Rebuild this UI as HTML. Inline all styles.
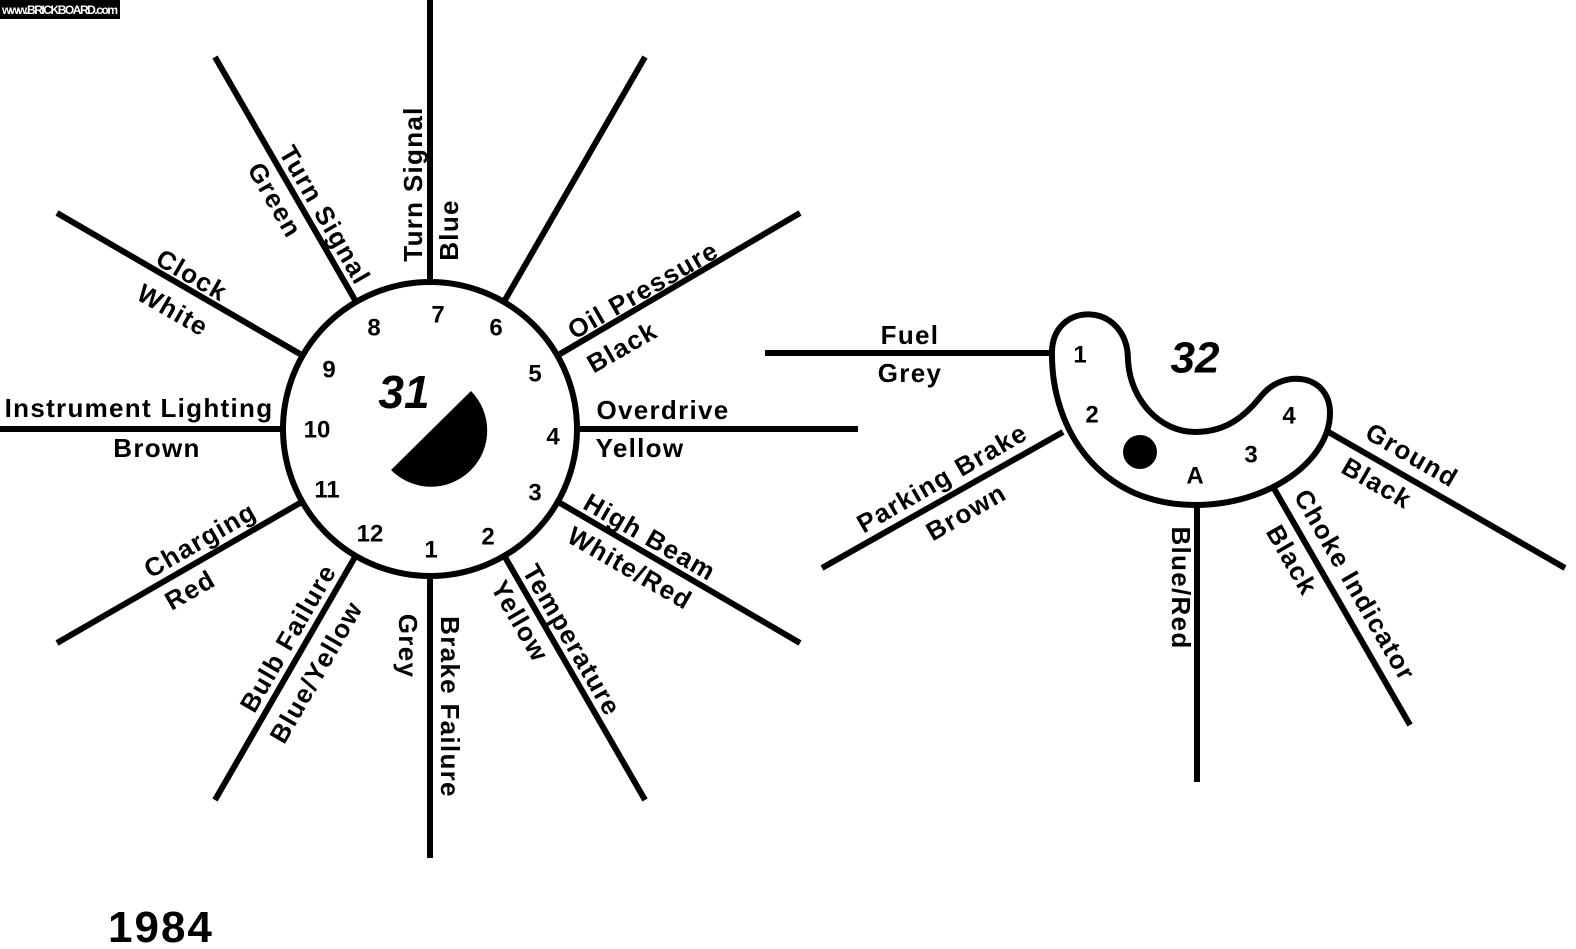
<!DOCTYPE html>
<html><head><meta charset="utf-8"><style>
html,body{margin:0;padding:0;background:#fff;}
svg{display:block;}
text{font-family:"Liberation Sans",Arial,sans-serif;font-weight:bold;fill:#000;}
</style></head><body>
<svg width="1576" height="949" viewBox="0 0 1576 949" xmlns="http://www.w3.org/2000/svg">
<rect x="0" y="0" width="120" height="19" fill="#000"/>
<text x="60" y="14" font-size="12" font-weight="normal" style="fill:#fff" text-anchor="middle" textLength="116">www.BRICKBOARD.com</text>
<g stroke="#000" stroke-width="6" fill="none">
<line x1="430" y1="0" x2="430" y2="282"/>
<line x1="430" y1="576" x2="430" y2="858"/>
<line x1="0" y1="429" x2="284" y2="429"/>
<line x1="576" y1="429" x2="858" y2="429"/>
<line x1="505" y1="300" x2="645" y2="57"/>
<line x1="355" y1="300" x2="215" y2="57"/>
<line x1="300" y1="354" x2="57" y2="213"/>
<line x1="560" y1="354" x2="800" y2="213"/>
<line x1="560" y1="503" x2="800" y2="643"/>
<line x1="300" y1="503" x2="57" y2="643"/>
<line x1="355" y1="557" x2="215" y2="800"/>
<line x1="505" y1="557" x2="645" y2="800"/>
<circle cx="430" cy="429" r="147" fill="#fff"/>
<line x1="765" y1="353" x2="1052" y2="353"/>
<line x1="1063" y1="432" x2="822" y2="568"/>
<line x1="1197" y1="505" x2="1197" y2="782"/>
<line x1="1272" y1="485" x2="1410" y2="725"/>
<line x1="1325" y1="430" x2="1565" y2="568"/>
<path d="M1052,355 C1050,300 1128,300 1128,360 C1130,400 1160,432 1195,432 C1230,432 1248,412 1262,395 C1285,368 1330,375 1330,413 C1330,460 1270,505 1195,505 C1100,505 1052,430 1052,355 Z" fill="#fff"/>
</g>
<path d="M391,470 L471,391 A56,56 0 0 1 391,470 Z" fill="#000"/>
<circle cx="1140" cy="452" r="17" fill="#000"/>
<g font-size="24" text-anchor="middle" dominant-baseline="central">
<text x="438" y="315">7</text><text x="374" y="328">8</text><text x="496" y="328">6</text>
<text x="329" y="370">9</text><text x="535" y="374">5</text><text x="317" y="430">10</text>
<text x="553" y="437">4</text><text x="327" y="490">11</text><text x="535" y="493">3</text>
<text x="370" y="534">12</text><text x="488" y="537">2</text><text x="431" y="550">1</text>
<text x="1080" y="355">1</text><text x="1092" y="415">2</text><text x="1289" y="416">4</text>
<text x="1251" y="455">3</text><text x="1195" y="476">A</text>
</g>
<text x="404" y="392" font-size="46" font-style="italic" text-anchor="middle" dominant-baseline="central">31</text>
<text x="1195" y="358" font-size="44" font-style="italic" text-anchor="middle" dominant-baseline="central">32</text>
<text x="108" y="942" font-size="44" letter-spacing="2">1984</text>
<g font-size="26" letter-spacing="1.3" text-anchor="middle" dominant-baseline="central">
<text transform="translate(413,184) rotate(-90)">Turn Signal</text>
<text transform="translate(449,230) rotate(-90)">Blue</text>
<text transform="translate(450,707) rotate(90)">Brake Failure</text>
<text transform="translate(408,646) rotate(90)">Grey</text>
<text x="139" y="408">Instrument Lighting</text>
<text x="157" y="448">Brown</text>
<text x="663" y="410">Overdrive</text>
<text x="640" y="448">Yellow</text>
<text transform="translate(192,275) rotate(30)">Clock</text>
<text transform="translate(173,310) rotate(30)">White</text>
<text transform="translate(200,540) rotate(-30)">Charging</text>
<text transform="translate(190,590) rotate(-30)">Red</text>
<text transform="translate(643,290) rotate(-30)">Oil Pressure</text>
<text transform="translate(622,347) rotate(-30)">Black</text>
<text transform="translate(650,537) rotate(30)">High Beam</text>
<text transform="translate(630,568) rotate(30)">White/Red</text>
<text transform="translate(325,215) rotate(60)">Turn Signal</text>
<text transform="translate(275,200) rotate(60)">Green</text>
<text transform="translate(288,638) rotate(-60)">Bulb Failure</text>
<text transform="translate(316,672) rotate(-60)">Blue/Yellow</text>
<text transform="translate(572,640) rotate(60)">Temperature</text>
<text transform="translate(520,621) rotate(60)">Yellow</text>
<text x="910" y="335">Fuel</text>
<text x="910" y="373">Grey</text>
<text transform="translate(942,478) rotate(-30)">Parking Brake</text>
<text transform="translate(966,512) rotate(-30)">Brown</text>
<text transform="translate(1181,588) rotate(90)">Blue/Red</text>
<text transform="translate(1355,585) rotate(60)">Choke Indicator</text>
<text transform="translate(1292,560) rotate(60)">Black</text>
<text transform="translate(1412,455) rotate(30)">Ground</text>
<text transform="translate(1377,483) rotate(30)">Black</text>
</g>
</svg>
</body></html>
